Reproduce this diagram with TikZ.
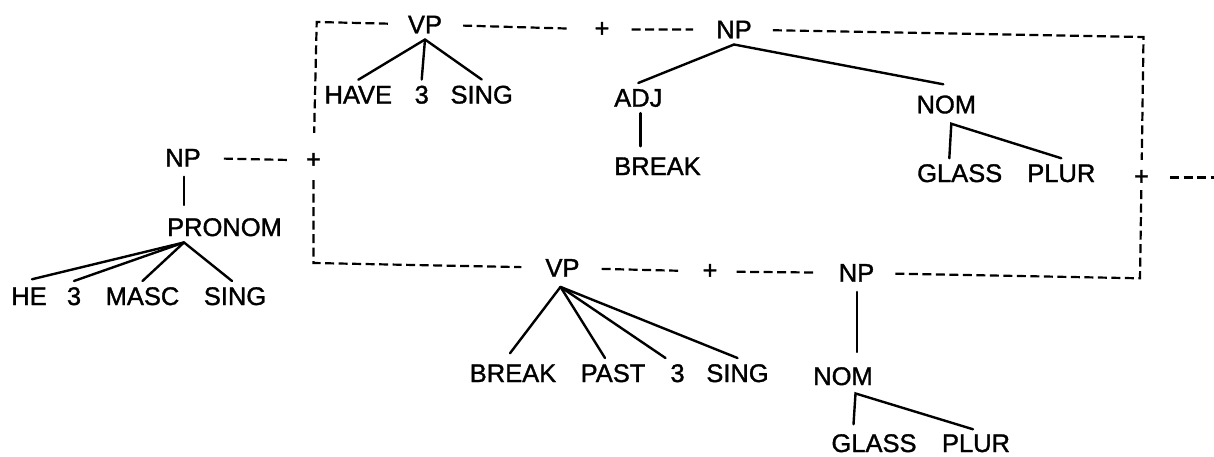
\documentclass[tikz,border=0pt]{standalone}
\usepackage{fontspec}
\setmainfont{Liberation Sans}
\newfontfamily\labfont{Liberation Sans}[FakeBold=1.3]
\usetikzlibrary{calc}
\begin{document}
\begin{tikzpicture}[x=1pt,y=-1pt,
  lab/.style={font=\labfont\fontsize{25.5}{30}\selectfont, inner xsep=2pt, inner ysep=6pt, anchor=base},
  plus/.style={font=\labfont\fontsize{25.5}{30}\selectfont, inner sep=0pt, anchor=center},
  branch/.style={line width=2.4pt, line cap=round},
  dl/.style={line width=2.2pt, dash pattern=on 9pt off 4.5pt}]
\useasboundingbox[fill=white] (0,0) rectangle (1214,456);

% top row
\node[lab] (vp1) at (425,33.3) {VP};
\node[plus] (plusT) at (602,29.5) {+};
\node[lab] (np1) at (734,38.3) {NP};
\node[lab] (have) at (358.3,103.5) {HAVE};
\node[lab] (th1) at (421.7,103.5) {3};
\node[lab] (sing1) at (481.7,103.5) {SING};
\node[lab] (adj) at (638.3,106.7) {ADJ};
\node[lab] (brk1) at (657.5,175) {BREAK};
\node[lab] (nom1) at (946.3,113.3) {NOM};
\node[lab] (glass1) at (959.7,182) {GLASS};
\node[lab] (plur1) at (1061.3,182) {PLUR};

% left tree
\node[lab] (npl) at (183,166.5) {NP};
\node[plus] (plusL) at (313.5,160.5) {+};
\node[lab] (pronom) at (224.5,236) {PRONOM};
\node[lab] (he) at (29,305) {HE};
\node[lab] (th0) at (74,305) {3};
\node[lab] (masc) at (142.5,305) {MASC};
\node[lab] (sing0) at (235,305) {SING};

% bottom row
\node[lab] (vp2) at (562.5,276.7) {VP};
\node[plus] (plusB) at (710,271.5) {+};
\node[lab] (np2) at (856.5,281.7) {NP};
\node[plus] (plusR) at (1141.5,177.5) {+};
\node[lab] (brk2) at (513,382) {BREAK};
\node[lab] (past) at (613,382) {PAST};
\node[lab] (th2) at (677.5,382) {3};
\node[lab] (sing2) at (737.5,382) {SING};
\node[lab] (nom2) at (843,385) {NOM};
\node[lab] (glass2) at (874,452) {GLASS};
\node[lab] (plur2) at (976,452) {PLUR};

% box corners and free end
\coordinate (tl) at (316.7,22);
\coordinate (bl) at (313.5,263);
\coordinate (tr) at (1143.5,37);
\coordinate (br) at (1140,278.3);
\coordinate (rend) at (1214,177.5);

% dashed connectors
\draw[dl, shorten <=18pt, shorten >=20pt] (vp1) -- (tl) -- (plusL);
\draw[dl, shorten <=12pt, shorten >=22pt] (plusL) -- (bl) -- (vp2);
\draw[dl, shorten <=21pt, shorten >=19pt] (npl) -- (plusL);
\draw[dl, shorten <=19pt, shorten >=26pt] (vp1) -- (plusT);
\draw[dl, shorten <=22pt, shorten >=21pt] (plusT) -- (np1);
\draw[dl, shorten <=19pt, shorten >=10pt] (np1) -- (tr) -- (plusR);
\draw[dl, shorten <=5pt, shorten >=19pt] (plusR) -- (br) -- (np2);
\draw[dl, shorten <=21pt] (plusR) -- (rend);
\draw[dl, shorten <=20pt, shorten >=24pt] (vp2) -- (plusB);
\draw[dl, shorten <=19pt, shorten >=22pt] (plusB) -- (np2);

% top VP tree
\draw[branch] (vp1.south) -- (have.north);
\draw[branch] (vp1.south) -- (th1.north);
\draw[branch] (vp1.south) -- (sing1.north);

% top NP tree
\draw[branch] (np1.south) -- (adj.north);
\draw[branch] (np1.south) -- ($(nom1.north)+(-3,-5)$);
\draw[branch] ($(adj.south)+(2,0)$) -- ($(adj.south |- brk1.north)+(2,-5)$);
\coordinate (na1) at ($(nom1.south)+(5,4)$);
\draw[branch] ($(na1 |- plur1.north)+(-2,0)$) -- (na1) -- (plur1.north);

% left tree
\draw[branch] ($(npl.south)+(1,4)$) -- ($(npl.south |- pronom.north)+(1,-7)$);
\coordinate (pa) at ($(npl.south |- pronom.south)+(1,0)$);
\draw[branch] (pa) -- ($(he.north)+(3,-2)$);
\draw[branch] (pa) -- (th0.north);
\draw[branch] (pa) -- (masc.north);
\draw[branch] (pa) -- ($(sing0.north)+(-3,0)$);

% bottom VP tree
\coordinate (va) at ($(vp2.south)+(-2,4)$);
\draw[branch] (va) -- ($(brk2.north)+(-3,-5)$);
\draw[branch] (va) -- ($(past.north)+(-8,0)$);
\draw[branch] (va) -- ($(th2.north)+(-12,0)$);
\draw[branch] (va) -- (sing2.north);

% bottom NP tree
\draw[branch] ($(np2.south)+(0.5,4)$) -- ($(np2.south |- nom2.north)+(0.5,-9)$);
\coordinate (na2) at ($(np2.south |- nom2.south)+(-1,2)$);
\draw[branch] ($(na2 |- plur2.north)+(-2,-4)$) -- (na2) -- ($(plur2.north)+(-3,1)$);
\end{tikzpicture}
\end{document}
